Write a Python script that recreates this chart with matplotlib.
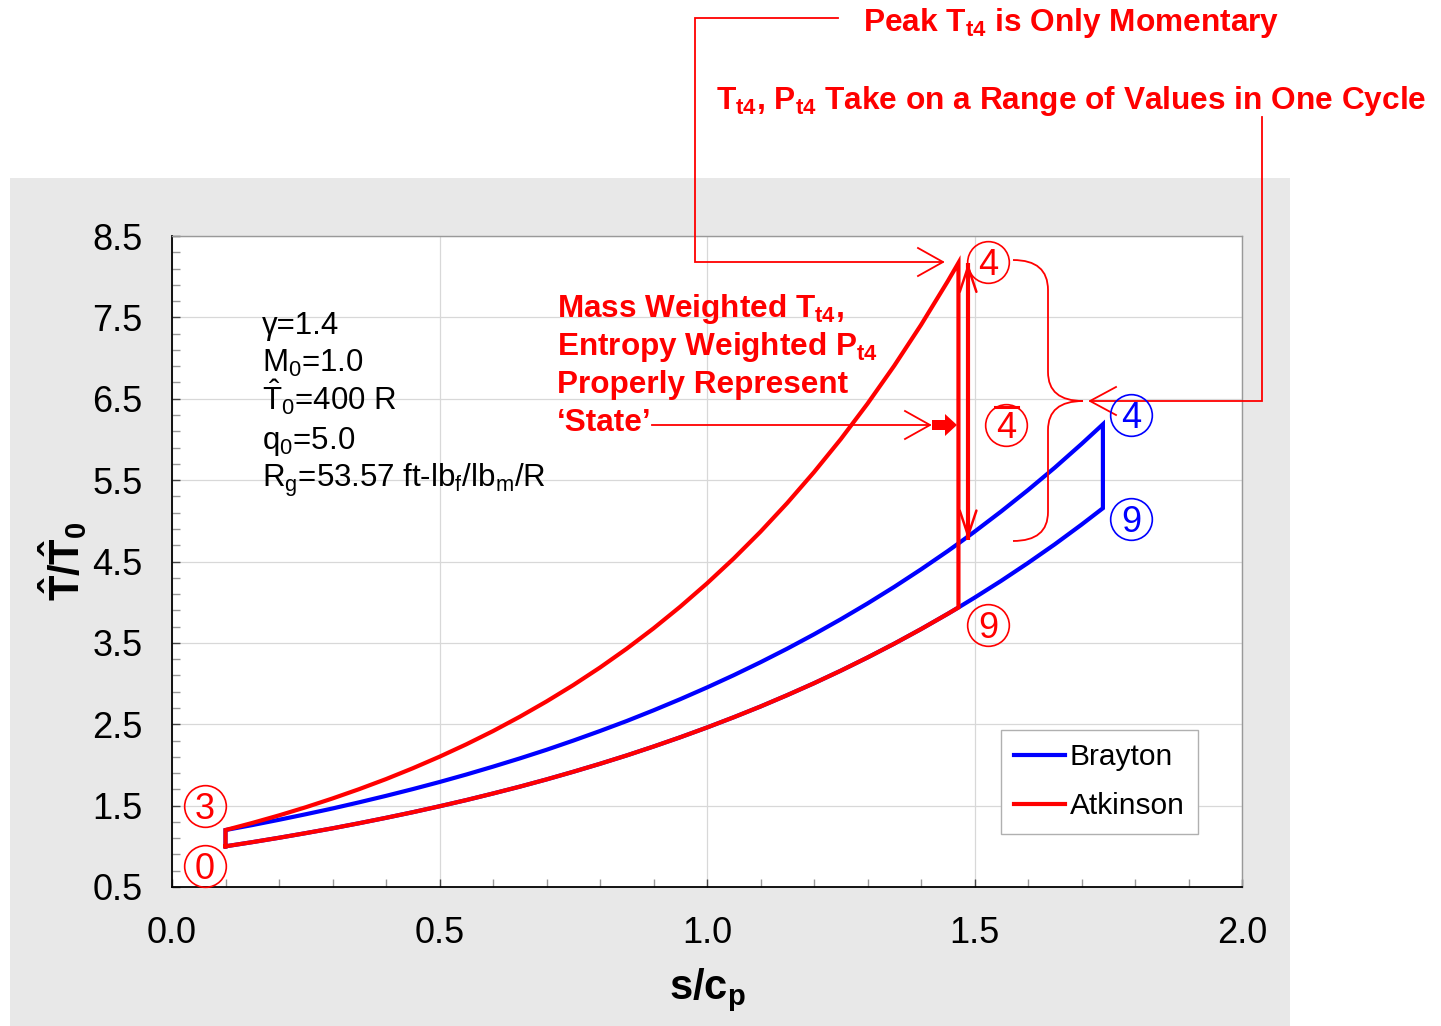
import numpy as np
import matplotlib.pyplot as plt
from matplotlib.lines import Line2D
from matplotlib.patches import Rectangle, Polygon, PathPatch
from matplotlib.path import Path
from matplotlib.transforms import Affine2D
from matplotlib.ticker import MultipleLocator

# s/cp along the constant pressure lines
s_isobar = [0.10, 0.15, 0.20, 0.25, 0.30, 0.35, 0.40, 0.45, 0.50, 0.55,
            0.60, 0.65, 0.70, 0.75, 0.80, 0.85, 0.90, 0.95, 1.00, 1.05,
            1.10, 1.15, 1.20, 1.25, 1.30, 1.35, 1.40, 1.45, 1.47, 1.50,
            1.55, 1.60, 1.65, 1.70, 1.74]
# lower isobar (0 -> 9), shared by both cycles
T_low = [1.000, 1.051, 1.105, 1.162, 1.221, 1.284, 1.350, 1.419, 1.492, 1.568,
         1.649, 1.733, 1.822, 1.916, 2.014, 2.117, 2.226, 2.340, 2.460, 2.586,
         2.718, 2.858, 3.004, 3.158, 3.320, 3.490, 3.669, 3.857, 3.935, 4.055,
         4.263, 4.482, 4.711, 4.953, 5.155]
# Brayton heat addition (3 -> 4)
T_brayton_up = [1.200, 1.261, 1.326, 1.394, 1.465, 1.541, 1.620, 1.703, 1.790, 1.882,
                1.979, 2.080, 2.186, 2.299, 2.417, 2.540, 2.671, 2.808, 2.952, 3.103,
                3.262, 3.429, 3.605, 3.790, 3.984, 4.188, 4.403, 4.628, 4.722, 4.866,
                5.116, 5.378, 5.653, 5.944, 6.186]
# Atkinson constant volume heat addition (3 -> 4)
s_atk = s_isobar[:29]
T_atk_up = [1.200, 1.287, 1.380, 1.480, 1.588, 1.703, 1.826, 1.959, 2.101, 2.253,
            2.416, 2.592, 2.780, 2.981, 3.197, 3.429, 3.678, 3.945, 4.231, 4.537,
            4.866, 5.219, 5.598, 6.003, 6.439, 6.906, 7.407, 7.944, 8.170]
T_atk_low = T_low[:29]

# range of T4 during one cycle
s_range = 1.488
T_range = [8.17, 4.77]

params = [r"γ=1.4", r"M$_0$=1.0", r"$\hat{T}$$_0$=400 R", r"q$_0$=5.0",
          r"R$_g$=53.57 ft-lb$_f$/lb$_m$/R"]
note_lines = [r"Mass Weighted T$_{t4}$,", r"Entropy Weighted P$_{t4}$",
              "Properly Represent", "\u2018State\u2019"]

plt.rcParams['font.family'] = 'Liberation Sans'
plt.rcParams['mathtext.fontset'] = 'custom'
plt.rcParams['mathtext.rm'] = 'Liberation Sans'
plt.rcParams['mathtext.it'] = 'Liberation Sans:italic'
plt.rcParams['mathtext.bf'] = 'Liberation Sans:bold'
plt.rcParams['mathtext.default'] = 'regular'

W, H = 1441, 1026
fig = plt.figure(figsize=(W / 100, H / 100), dpi=100)
fig.patch.set_facecolor('white')
# pixel coords, y from top
pix = Affine2D().scale(1 / W, -1 / H).translate(0, 1) + fig.transFigure

fig.add_artist(Rectangle((10, 178), 1280, 848, transform=pix,
                         facecolor='#e8e8e8', edgecolor='none', zorder=-10))

ax = fig.add_axes([172 / W, 1 - 887 / H, (1242 - 172) / W, (887 - 236) / H])
ax.set_facecolor('white')
ax.set_xlim(0, 2)
ax.set_ylim(0.5, 8.5)
ax.xaxis.set_major_locator(MultipleLocator(0.5))
ax.xaxis.set_minor_locator(MultipleLocator(0.1))
ax.yaxis.set_major_locator(MultipleLocator(1.0, offset=0.5))
ax.yaxis.set_minor_locator(MultipleLocator(0.2, offset=0.1))
ax.xaxis.set_major_formatter(plt.FormatStrFormatter('%.1f'))
ax.yaxis.set_major_formatter(plt.FormatStrFormatter('%.1f'))
ax.tick_params(which='both', direction='in', length=6, width=1,
               labelsize=26, pad=21, top=False, right=False)
ax.tick_params(which='minor', color='#999999')
ax.tick_params(which='major', color='#444444')
ax.grid(True, which='major', color='#d8d8d8', lw=0.9)
ax.set_axisbelow(True)
for side in ['left', 'bottom']:
    ax.spines[side].set_linewidth(1.3)
for side in ['top', 'right']:
    ax.spines[side].set_color('#999999')
    ax.spines[side].set_linewidth(1.0)

blue, red = '#0000ff', '#ff0000'
s_b = s_isobar[:1] + s_isobar + s_isobar[::-1]
T_b = T_low[:1] + T_brayton_up + T_low[::-1]
ax.plot(s_b, T_b, color=blue, lw=3, label='Brayton', solid_joinstyle='miter')
s_a = s_atk[:1] + s_atk + s_atk[::-1]
T_a = T_atk_low[:1] + T_atk_up + T_atk_low[::-1]
ax.plot(s_a, T_a, color=red, lw=3, label='Atkinson', solid_joinstyle='miter')

# T4 range: thick shaft, thin open heads
ax.plot([s_range, s_range], T_range, color=red, lw=3, solid_capstyle='butt')
for tip, tail in [(T_range[0], T_range[0] - 0.3), (T_range[1], T_range[1] + 0.3)]:
    ax.annotate('', xy=(s_range, tip), xytext=(s_range, tail),
                arrowprops=dict(arrowstyle='->,head_length=0.9,head_width=0.3',
                                color=red, lw=1.8, shrinkA=0, shrinkB=0,
                                mutation_scale=20))

leg = ax.legend(loc='upper left', bbox_to_anchor=(1001, 730),
                bbox_transform=pix, borderaxespad=0, fontsize=21.5,
                fancybox=False, framealpha=1, edgecolor='#b0b0b0',
                handlelength=1.7, handletextpad=0.15, labelspacing=0.7,
                borderpad=0.45)
leg.get_frame().set_linewidth(1.0)

fig.text(63, 561, r"$\hat{T}/\hat{T}_0$", transform=pix, rotation=90,
         fontsize=30, fontweight='bold', ha='center', va='center')
fig.text(707, 990, "s/c$_p$", transform=pix, fontsize=30, fontweight='bold',
         ha='center', va='center')

for txt, yb in zip(params, [334, 372, 410, 449, 487]):
    fig.text(262, yb, txt, transform=pix, fontsize=22.5, va='baseline')
for txt, yb in zip(note_lines, [317, 355, 393, 431]):
    fig.text(557, yb, txt, transform=pix, fontsize=22.7, fontweight='bold',
             color=red, va='baseline')
fig.text(863, 31, r"Peak T$_{t4}$ is Only Momentary", transform=pix,
         fontsize=22.8, fontweight='bold', color=red, va='baseline')
fig.text(716, 109, r"T$_{t4}$, P$_{t4}$ Take on a Range of Values in One Cycle",
         transform=pix, fontsize=22.8, fontweight='bold', color=red,
         va='baseline')


def pline(xs, ys, lw=1.3, color=red):
    fig.add_artist(Line2D(xs, ys, transform=pix, color=color, lw=lw,
                          solid_joinstyle='miter'))


# Peak arrow
pline([838, 695, 695, 943], [18, 18, 262, 262])
pline([918, 943, 918], [248, 262, 276])
# range arrow
pline([1262, 1262, 1090], [117, 401, 401])
pline([1116, 1090, 1116], [387, 401, 415])
# state arrow
pline([652, 930], [425, 425])
pline([905, 930, 905], [411, 425, 439])
fig.add_artist(Polygon([(932, 420), (945, 420), (945, 414), (957, 425),
                        (945, 436), (945, 430), (932, 430)], closed=True,
                       transform=pix, facecolor=red, edgecolor='none'))
# brace
brace = Path([(1013, 260), (1048, 260), (1048, 290), (1048, 372),
              (1048, 401), (1083, 401),
              (1048, 401), (1048, 430), (1048, 512),
              (1048, 541), (1013, 541)],
             [Path.MOVETO, Path.CURVE3, Path.CURVE3, Path.LINETO,
              Path.CURVE3, Path.CURVE3,
              Path.CURVE3, Path.CURVE3, Path.LINETO,
              Path.CURVE3, Path.CURVE3])
fig.add_artist(PathPatch(brace, transform=pix, facecolor='none',
                         edgecolor=red, lw=1.3))

# circled state numbers
circles = [('4', 988, 262, red), ('4', 1006, 425, red), ('9', 988, 625, red),
           ('4', 1131, 415, blue), ('9', 1131, 519, blue),
           ('3', 205, 806, red), ('0', 205, 866, red)]
for lab, cx, cy, col in circles:
    fig.add_artist(Line2D([cx], [cy], transform=pix, marker='o', ms=30,
                          mfc='none', mec=col, mew=1.2))
    fig.text(cx, cy + 13, lab, transform=pix, fontsize=26, color=col,
             ha='center', va='baseline')
pline([995, 1018], [407, 407], lw=2.2)

fig.savefig('out.png', dpi=100)
